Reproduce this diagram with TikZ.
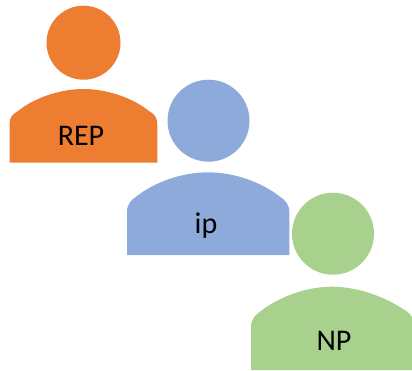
\documentclass[tikz,border=0pt]{standalone}
\usepackage{fontspec}
\setmainfont{Carlito}
\usetikzlibrary{positioning}
\definecolor{repcol}{RGB}{237,125,49}
\definecolor{ipcol}{RGB}{142,170,219}
\definecolor{npcol}{RGB}{169,209,142}
\begin{document}
\begin{tikzpicture}[x=1pt,y=-1pt,
  head/.style={circle,inner sep=0pt,outer sep=0pt},
  bodylabel/.style={font=\fontsize{30}{30}\selectfont,text=black,inner sep=0pt},
]
  \useasboundingbox (0,0) rectangle (412,370);

  % REP
  \node[head,fill=repcol,minimum size=74pt] (rephead) at (83.5,42.7) {};
  \fill[repcol] (9.5,162.7) -- (9.5,124) .. controls (9.5,117) and (13,114) .. (18,111) .. controls (34,98) and (60,89) .. (83.5,89) .. controls (107,89) and (133,98) .. (149,111) .. controls (154,114) and (157.3,117) .. (157.3,124) -- (157.3,162.7) -- cycle;
  \node[bodylabel] (rep) at (81,135.5) {REP};

  % ip
  \node[head,fill=ipcol,minimum size=82pt] (iphead) at (208.5,120.7) {};
  \fill[ipcol] (127,255) -- (127,212) .. controls (127,204) and (131,200) .. (137,196) .. controls (155,182) and (182,172.3) .. (208,172.3) .. controls (234,172.3) and (261,182) .. (279,196) .. controls (285,200) and (289.3,204) .. (289.3,212) -- (289.3,255) -- cycle;
  \node[bodylabel] (ip) at (206,226) {ip};

  % NP
  \node[head,fill=npcol,minimum size=82pt] (nphead) at (333,233.7) {};
  \fill[npcol] (251,370) -- (251,327) .. controls (251,319) and (255,315) .. (261,311) .. controls (279,297) and (306,286.7) .. (332,286.7) .. controls (358,286.7) and (385,297) .. (403,309) .. controls (407,311) and (410,314) .. (412,317) -- (412,370) -- cycle;
  \node[bodylabel] (np) at (334,340.5) {NP};
\end{tikzpicture}
\end{document}
